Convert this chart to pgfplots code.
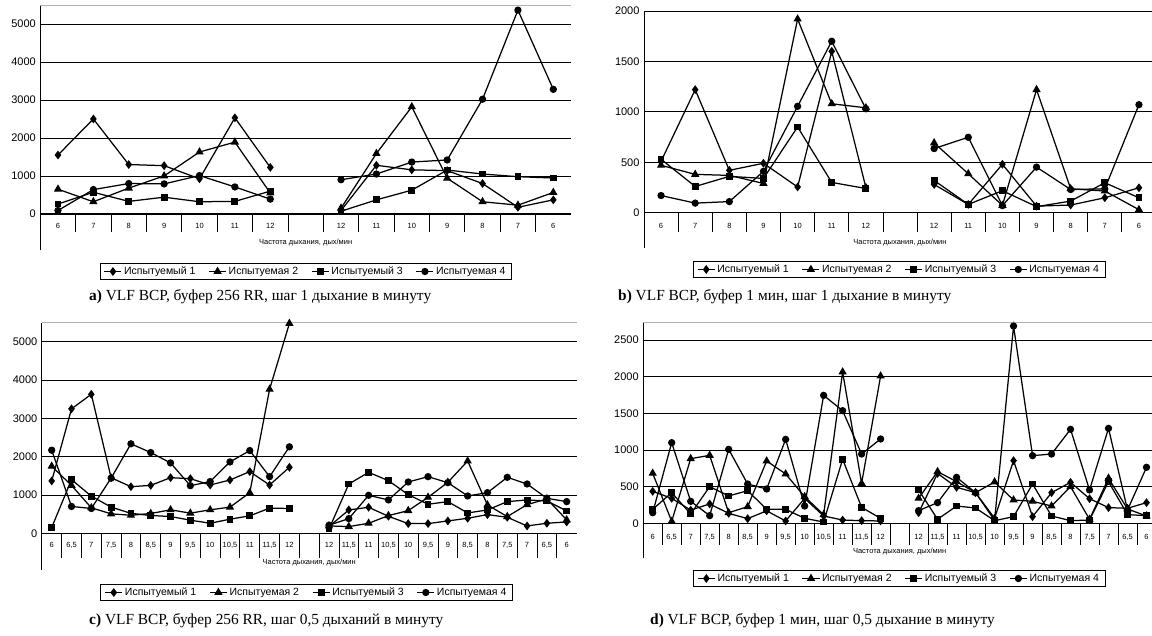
\documentclass[border=0pt]{standalone}
\usepackage{fontspec}
\setmainfont{Liberation Sans}
\newfontfamily\capfont{Liberation Serif}
\usepackage{pgfplots}
\pgfplotsset{compat=1.18}
\usepackage{pgfplotstable}

\pgfplotstableread{
x s1 s2 s3 s4
0 1550 650 260 90
1 2500 320 570 640
2 1300 680 330 800
3 1270 1000 440 790
4 925 1630 320 1010
5 2530 1890 330 710
6 1225 550 600 390
7 nan nan nan nan
8 90 150 70 900
9 1280 1590 370 1050
10 1160 2820 625 1365
11 1140 940 1155 1420
12 800 320 1050 3020
13 175 230 980 5365
14 370 565 945 3280
}\dataA

\pgfplotstableread{
x s1 s2 s3 s4
0 510 470 530 170
1 1220 380 260 95
2 420 370 360 110
3 490 290 340 410
4 255 1920 850 1055
5 1600 1080 300 1700
6 250 1040 240 1030
7 nan nan nan nan
8 280 692 320 636
9 82 386 82 748
10 480 72 218 70
11 65 1220 60 452
12 76 237 115 230
13 148 215 297 237
14 247 30 148 1071
}\dataB

\pgfplotstableread{
x s1 s2 s3 s4
0 1365 1750 150 2170
1 3250 1250 1400 700
2 3630 665 970 647
3 1450 507 682 1440
4 1216 470 520 2336
5 1251 516 464 2108
6 1452 612 437 1837
7 1426 525 341 1242
8 1260 612 262 1350
9 1391 682 367 1863
10 1610 1059 455 2160
11 1260 3760 656 1478
12 1723 5480 647 2257
13 nan nan nan nan
14 174 191 110 209
15 609 174 1287 383
16 678 261 1591 991
17 443 461 1374 870
18 252 591 1009 1339
19 252 939 757 1478
20 322 1330 826 1322
21 391 1887 530 974
22 487 739 609 1061
23 417 435 826 1461
24 191 748 870 1287
25 261 896 843 913
26 296 350 583 826
}\dataC

\pgfplotstableread{
x s1 s2 s3 s4
0 436 682 191 145
1 341 27 418 1100
2 180 882 127 300
3 264 927 500 105
4 136 145 373 1009
5 64 227 445 536
6 170 850 191 468
7 32 673 191 1145
8 340 364 68 236
9 100 118 18 1745
10 45 2064 873 1536
11 36 545 218 945
12 32 2009 68 1150
13 nan nan nan nan
14 145 341 455 173
15 680 705 55 282
16 491 568 236 627
17 418 418 209 418
18 68 564 36 40
19 855 318 91 2690
20 91 300 536 923
21 418 236 100 945
22 559 500 36 1282
23 336 55 45 455
24 214 614 568 1295
25 205 195 118 182
26 282 100 105 764
}\dataD

\pgfplotsset{
  vlf/.style={
    scale only axis, anchor=south west,
    axis y line*=left, axis x line*=bottom,
    x axis line style={draw=none},
    y axis line style={black, line width=0.8pt, -},
    xtick style={draw=none}, ytick style={draw=none},
    ymajorgrids, major grid style={black, line width=0.7pt},
    unbounded coords=jump, clip=false,
    yticklabel style={font=\fontsize{11}{13}\selectfont, xshift=-1pt},
    xticklabel style={font=\fontsize{7.5}{9}\selectfont, anchor=center},
    /pgf/number format/assume math mode=true,
    /pgf/number format/1000 sep={},
    legend columns=4,
    legend cell align=left,
    legend style={draw=black, font=\fontsize{10.5}{12}\selectfont, anchor=center,
      inner xsep=4pt, inner ysep=1.5pt,
      /tikz/every even column/.append style={column sep=11pt}},
    xlabel={Частота дыхания, дых/мин},
    xlabel style={font=\fontsize{7.5}{9}\selectfont, at={(axis description cs:0.5,0)}, anchor=center},
  },
  sA/.style={black, line width=1.25pt, mark=diamond*, mark size=3.4pt, mark options={solid, fill=black}},
  sB/.style={black, line width=1.25pt, mark=triangle*, mark size=3.6pt, mark options={solid, fill=black}},
  sC/.style={black, line width=1.25pt, mark=square*, mark size=2.8pt, mark options={solid, fill=black}},
  sD/.style={black, line width=1.25pt, mark=*, mark size=3pt, mark options={solid, fill=black}},
}

\newcommand\allseries[1]{%
  \addplot[sA] table[x=x,y=s1]{#1};
  \addplot[sB] table[x=x,y=s2]{#1};
  \addplot[sC] table[x=x,y=s3]{#1};
  \addplot[sD] table[x=x,y=s4]{#1};
  \legend{Испытуемый 1,Испытуемая 2,Испытуемый 3,Испытуемая 4}
}

\begin{document}
\begin{tikzpicture}[x=1pt,y=1pt]
\useasboundingbox (0,0) rectangle (1152,635);

% ---------- a ----------
\begin{axis}[vlf, at={(40.3pt,385pt)}, width=530.7pt, height=245pt,
  xmin=-0.5, xmax=14.5, ymin=-950, ymax=5500,
  ytick={0,1000,...,5000},
  xtick={0,...,14}, xticklabels={6,7,8,9,10,11,12,,12,11,10,9,8,7,6},
  xticklabel style={yshift=24.3pt},
  xlabel style={yshift=7pt},
  legend style={at={(axis description cs:0.5,-0.0878)}}]
  \allseries{\dataA}
  \draw[black, line width=0.9pt] (axis cs:-0.5,0) -- (axis cs:14.5,0);
  \pgfplotsinvokeforeach{0.5,1.5,...,13.5}{\draw[black, line width=0.8pt] (axis cs:#1,0) -- ([yshift=-18pt]axis cs:#1,0);}
  \draw[gray!60, line width=0.8pt] (rel axis cs:0,1) -- (rel axis cs:1,1);
\end{axis}

% ---------- b ----------
\begin{axis}[vlf, at={(644pt,387pt)}, width=512pt, height=237pt,
  xmin=-0.5, xmax=14.5, ymin=-350, ymax=2000,
  ytick={0,500,...,2000},
  xtick={0,...,14}, xticklabels={6,7,8,9,10,11,12,,12,11,10,9,8,7,6},
  xticklabel style={yshift=22pt},
  xlabel style={yshift=5pt},
  legend style={at={(axis description cs:0.498,-0.0907)}}]
  \allseries{\dataB}
  \draw[black, line width=0.9pt] (axis cs:-0.5,0) -- (axis cs:14.5,0);
  \pgfplotsinvokeforeach{0.5,1.5,...,13.5}{\draw[black, line width=0.8pt] (axis cs:#1,0) -- ([yshift=-19pt]axis cs:#1,0);}
\end{axis}

% ---------- c ----------
\begin{axis}[vlf, at={(41.8pt,65pt)}, width=534.8pt, height=247.3pt,
  xmin=-0.5, xmax=26.5, ymin=-960, ymax=5500,
  ytick={0,1000,...,5000},
  xtick={0,...,26},
  xticklabels={6,{6,5},7,{7,5},8,{8,5},9,{9,5},10,{10,5},11,{11,5},12,,12,{11,5},11,{10,5},10,{9,5},9,{8,5},8,{7,5},7,{6,5},6},
  xticklabel style={yshift=25pt},
  xlabel style={yshift=7.3pt},
  legend style={at={(axis description cs:0.495,-0.091)}}]
  \allseries{\dataC}
  \draw[black, line width=0.9pt] (axis cs:-0.5,0) -- (axis cs:26.5,0);
  \pgfplotsinvokeforeach{0.5,1.5,...,25.5}{\draw[black, line width=0.8pt] (axis cs:#1,0) -- ([yshift=-25pt]axis cs:#1,0);}
  \draw[gray!60, line width=0.8pt] (rel axis cs:0,1) -- (rel axis cs:1,1);
\end{axis}

% ---------- d ----------
\begin{axis}[vlf, at={(643.2pt,76.7pt)}, width=512.8pt, height=235.6pt,
  xmin=-0.5, xmax=26.5, ymin=-477, ymax=2736,
  ytick={0,500,...,2500},
  xtick={0,...,26},
  xticklabels={6,{6,5},7,{7,5},8,{8,5},9,{9,5},10,{10,5},11,{11,5},12,,12,{11,5},11,{10,5},10,{9,5},9,{8,5},8,{7,5},7,{6,5},6},
  xticklabel style={yshift=21.3pt},
  xlabel style={yshift=6.3pt},
  legend style={at={(axis description cs:0.499,-0.0857)}}]
  \allseries{\dataD}
  \draw[black, line width=0.9pt] (axis cs:-0.5,0) -- (axis cs:26.5,0);
  \pgfplotsinvokeforeach{0.5,1.5,...,25.5}{\draw[black, line width=0.8pt] (axis cs:#1,0) -- ([yshift=-22pt]axis cs:#1,0);}
  \draw[gray!60, line width=0.8pt] (rel axis cs:0,1) -- (rel axis cs:1,1);
\end{axis}

% captions
\node[anchor=west, inner sep=0pt, font=\capfont\fontsize{15.4}{18}\selectfont] at (89,338) {\textbf{a)} VLF ВСР, буфер 256 RR, шаг 1 дыхание в минуту};
\node[anchor=west, inner sep=0pt, font=\capfont\fontsize{15.4}{18}\selectfont] at (618,338) {\textbf{b)} VLF ВСР, буфер 1 мин, шаг 1 дыхание в минуту};
\node[anchor=west, inner sep=0pt, font=\capfont\fontsize{15.4}{18}\selectfont] at (89,14) {\textbf{c)} VLF ВСР, буфер 256 RR, шаг 0,5 дыханий в минуту};
\node[anchor=west, inner sep=0pt, font=\capfont\fontsize{15.4}{18}\selectfont] at (650,14) {\textbf{d)} VLF ВСР, буфер 1 мин, шаг 0,5 дыхание в минуту};
\end{tikzpicture}
\end{document}
